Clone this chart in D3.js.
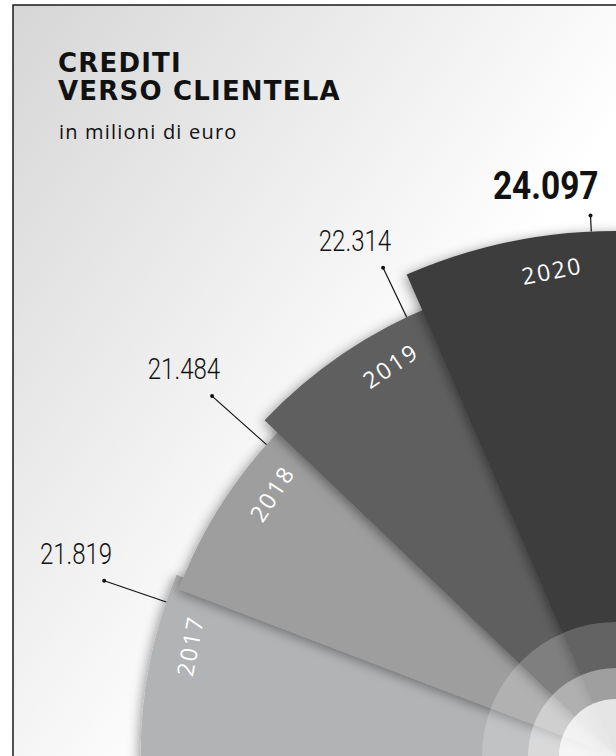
<!DOCTYPE html>
<html>
<head>
<meta charset="utf-8">
<script src="https://cdn.jsdelivr.net/npm/d3@7"></script>
<style>
  body { margin: 0; background: #fff; }
  svg { display: block; }
</style>
</head>
<body>
<script>
// data
var years = ['2017', '2018', '2019', '2020'];
var values = [21819, 21484, 22314, 24097];
var valueLabels = ['21.819', '21.484', '22.314', '24.097'];

var width = 616, height = 756;
var cx = 616, cy = 756;   // centre of the fan sits in the bottom right corner

var svg = d3.select('body').append('svg')
	.attr('width', width)
	.attr('height', height);

var defs = svg.append('defs');

var bg = defs.append('linearGradient')
	.attr('id', 'bg')
	.attr('x1', 0).attr('y1', 0)
	.attr('x2', 0.65).attr('y2', 0.55);
bg.append('stop').attr('offset', 0).attr('stop-color', '#d6d6d6');
bg.append('stop').attr('offset', 1).attr('stop-color', '#ffffff');

var shadow = defs.append('filter')
	.attr('id', 'shadow')
	.attr('x', '-20%').attr('y', '-20%')
	.attr('width', '140%').attr('height', '140%');
shadow.append('feDropShadow')
	.attr('dx', -2).attr('dy', 2)
	.attr('stdDeviation', 6)
	.attr('flood-color', '#000')
	.attr('flood-opacity', 0.4);

// background + frame
svg.append('rect')
	.attr('x', 13).attr('y', 5)
	.attr('width', width).attr('height', height)
	.attr('fill', 'url(#bg)');

svg.append('path')
	.attr('d', 'M13,' + height + 'V5H' + width)
	.attr('fill', 'none')
	.attr('stroke', '#1a1a1a')
	.attr('stroke-width', 1.5);

// title
var title = svg.append('g')
	.attr('font-family', 'DejaVu Sans')
	.attr('font-weight', 700)
	.attr('font-size', 26)
	.attr('letter-spacing', 1.2)
	.attr('fill', '#111');
title.append('text').attr('x', 58).attr('y', 72).text('CREDITI');
title.append('text').attr('x', 58).attr('y', 100).text('VERSO CLIENTELA');

svg.append('text')
	.attr('x', 59).attr('y', 139)
	.attr('font-family', 'Open Sans')
	.attr('font-size', 20)
	.attr('letter-spacing', 1.2)
	.attr('fill', '#111')
	.text('in milioni di euro');

// scales
var rScale = d3.scaleLinear().domain([0, 24097]).range([0, 525]);
// sector boundaries in degrees, 0 = straight up, negative = to the left
var angle = d3.scaleLinear().domain([0, years.length]).range([-91.9, -0.7]);
var overlap = 1.5;
var rad = Math.PI / 180;

var colors = ['#b2b3b5', '#9e9e9e', '#5f5f5f', '#3d3d3d'];

var arc = d3.arc()
	.innerRadius(0)
	.outerRadius(function(d) { return rScale(d.v); })
	.startAngle(function(d) { return angle(d.i) * rad; })
	.endAngle(function(d) { return (angle(d.i + 1) + (d.i === years.length - 1 ? 3 : overlap)) * rad; });

var data = years.map(function(y, i) {
	return { year: y, v: values[i], label: valueLabels[i], i: i };
});

var g = svg.append('g').attr('transform', `translate(${cx}, ${cy})`);

g.selectAll('path.sector')
	.data(data)
	.enter().append('path')
	.attr('class', 'sector')
	.attr('d', arc)
	.attr('fill', function(d, i) { return colors[i]; })
	.attr('filter', 'url(#shadow)');

// light rings around the centre
var rings = [[134, 0.2], [88, 0.39], [57, 0.73]];
g.selectAll('circle.ring')
	.data(rings)
	.enter().append('circle')
	.attr('class', 'ring')
	.attr('r', function(d) { return d[0]; })
	.attr('fill', '#fff')
	.attr('fill-opacity', function(d) { return d[1]; });

function polar(r, deg) {
	return [r * Math.sin(deg * rad), -r * Math.cos(deg * rad)];
}

// year labels inside the sectors
g.selectAll('text.year')
	.data(data)
	.enter().append('text')
	.attr('class', 'year')
	.attr('transform', function(d) {
		var a = (angle(d.i) + angle(d.i + 1)) / 2 + 1;
		var p = polar(rScale(d.v) - 45, a);
		return `translate(${p[0]}, ${p[1]}) rotate(${a})`;
	})
	.attr('font-family', 'Open Sans')
	.attr('font-weight', 500)
	.attr('font-size', 23)
	.attr('letter-spacing', 2.2)
	.attr('fill', '#fff')
	.text(function(d) { return d.year; });

// leader lines + values
var dotR = 541;
function dot(d) { return polar(dotR, angle(d.i + 1) - 2); }
function foot(d) { return polar(rScale(d.v), angle(d.i + 1) - 2); }

var leader = g.selectAll('g.leader')
	.data(data)
	.enter().append('g')
	.attr('class', 'leader');

leader.append('line')
	.attr('x1', function(d) { return foot(d)[0]; })
	.attr('y1', function(d) { return foot(d)[1]; })
	.attr('x2', function(d) { return dot(d)[0]; })
	.attr('y2', function(d) { return dot(d)[1]; })
	.attr('stroke', '#111')
	.attr('stroke-width', 1.2);

leader.append('circle')
	.attr('cx', function(d) { return dot(d)[0]; })
	.attr('cy', function(d) { return dot(d)[1]; })
	.attr('r', 2)
	.attr('fill', '#111');

// condensed number font: squeeze Roboto horizontally
leader.append('text')
	.attr('transform', function(d) {
		var p = dot(d);
		var last = d.i === years.length - 1;
		return `translate(${p[0] + 8}, ${p[1] - 17}) scale(${last ? 0.88 : 0.8}, 1)`;
	})
	.attr('text-anchor', 'end')
	.attr('font-family', 'Roboto')
	.attr('font-weight', function(d) { return d.i === years.length - 1 ? 700 : 300; })
	.attr('font-size', function(d) { return d.i === years.length - 1 ? 38 : 30; })
	.attr('fill', '#111')
	.text(function(d) { return d.label; });
</script>
</body>
</html>
